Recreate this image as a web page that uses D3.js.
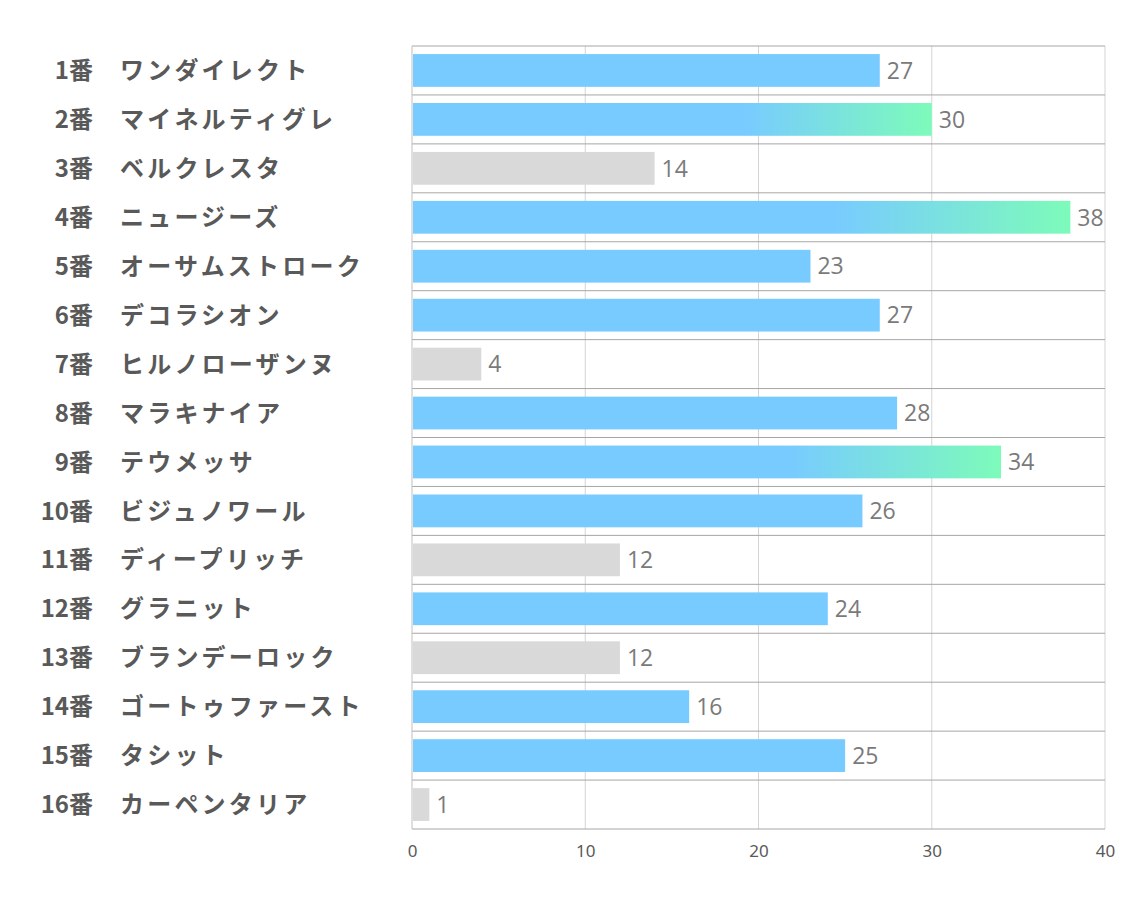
<!DOCTYPE html>
<html>
<head>
<meta charset="utf-8">
<script src="https://cdn.jsdelivr.net/npm/d3@7"></script>
<style>
  body { margin: 0; background: #fff; }
  svg { display: block; }
</style>
</head>
<body>
<div id="chart"></div>
<script>
// Chart data
var numbers = ["1番", "2番", "3番", "4番", "5番", "6番", "7番", "8番",
    "9番", "10番", "11番", "12番", "13番", "14番", "15番", "16番"];
var horses = ["ワンダイレクト", "マイネルティグレ", "ベルクレスタ", "ニュージーズ",
    "オーサムストローク", "デコラシオン", "ヒルノローザンヌ", "マラキナイア",
    "テウメッサ", "ビジュノワール", "ディープリッチ", "グラニット",
    "ブランデーロック", "ゴートゥファースト", "タシット", "カーペンタリア"];
var values = [27, 30, 14, 38, 23, 27, 4, 28, 34, 26, 12, 24, 12, 16, 25, 1];
// bar style per horse: "b" = blue, "g" = gradient, "x" = gray
var kinds = ["b", "g", "x", "g", "b", "b", "x", "b", "g", "b", "x", "b", "x", "b", "b", "x"];
var xTicks = [0, 10, 20, 30, 40];

var svgWidth = 1134;
var svgHeight = 907;
var margin = { top: 46, right: 29, bottom: 78, left: 412 };
var chartWidth = svgWidth - margin.left - margin.right;
var chartHeight = svgHeight - margin.top - margin.bottom;

var svg = d3.select("#chart").append("svg")
    .attr("width", svgWidth)
    .attr("height", svgHeight);

// Gradient for the highlighted bars
var grad = svg.append("defs").append("linearGradient")
    .attr("id", "hl")
    .attr("x1", "0%").attr("x2", "100%")
    .attr("y1", "0%").attr("y2", "0%");
grad.append("stop").attr("offset", "0%").attr("stop-color", "#78cbff");
grad.append("stop").attr("offset", "64%").attr("stop-color", "#78cbff");
grad.append("stop").attr("offset", "100%").attr("stop-color", "#7dfbba");

var chartGroup = svg.append("g")
    .attr("transform", `translate(${margin.left}, ${margin.top})`);

var xScale = d3.scaleLinear().domain([0, 40]).range([0, chartWidth]);
var yScale = d3.scaleBand()
    .domain(d3.range(horses.length))
    .range([0, chartHeight])
    .paddingInner(0.33)
    .paddingOuter(0.165);
var rowScale = d3.scaleBand()
    .domain(d3.range(horses.length))
    .range([0, chartHeight]);

// Vertical grid lines
chartGroup.selectAll(".vgrid")
    .data(xTicks.slice(1))
    .enter().append("line")
    .attr("x1", d => xScale(d)).attr("x2", d => xScale(d))
    .attr("y1", 0).attr("y2", chartHeight)
    .attr("stroke", "#d4d4d4")
    .attr("stroke-width", 1);

// Horizontal row lines
var rowEdges = d3.range(horses.length + 1);
chartGroup.selectAll(".hgrid")
    .data(rowEdges)
    .enter().append("line")
    .attr("x1", 0).attr("x2", chartWidth)
    .attr("y1", d => d < horses.length ? rowScale(d) : chartHeight)
    .attr("y2", d => d < horses.length ? rowScale(d) : chartHeight)
    .attr("stroke", "#a6a6a6")
    .attr("stroke-width", 1);

// Left axis line
chartGroup.append("line")
    .attr("x1", 0).attr("x2", 0)
    .attr("y1", 0).attr("y2", chartHeight)
    .attr("stroke", "#bfbfbf");

// Bars
var fills = { b: "#78cbff", g: "url(#hl)", x: "#d9d9d9" };
chartGroup.selectAll(".bar")
    .data(values)
    .enter().append("rect")
    .attr("x", xScale(0) + 1)
    .attr("y", (d, i) => yScale(i))
    .attr("width", d => xScale(d) - 1)
    .attr("height", yScale.bandwidth())
    .attr("fill", (d, i) => fills[kinds[i]]);

// Value labels
chartGroup.selectAll(".val")
    .data(values)
    .enter().append("text")
    .attr("x", d => xScale(d) + 7)
    .attr("y", (d, i) => yScale(i) + yScale.bandwidth() / 2)
    .attr("dy", "0.36em")
    .attr("font-family", "'Open Sans', 'Noto Sans', sans-serif")
    .attr("font-size", 23)
    .attr("fill", "#7a7a7a")
    .text(d => d);

// Row labels: number and horse name
chartGroup.selectAll(".num")
    .data(numbers)
    .enter().append("text")
    .attr("x", 93 - margin.left)
    .attr("y", (d, i) => rowScale(i) + rowScale.bandwidth() / 2)
    .attr("dy", "0.36em")
    .attr("text-anchor", "end")
    .attr("font-family", "'Noto Sans CJK JP', sans-serif")
    .attr("font-weight", "bold")
    .attr("font-size", 24)
    .attr("fill", "#595959")
    .text(d => d);

chartGroup.selectAll(".name")
    .data(horses)
    .enter().append("text")
    .attr("x", 120 - margin.left)
    .attr("y", (d, i) => rowScale(i) + rowScale.bandwidth() / 2)
    .attr("dy", "0.36em")
    .attr("font-family", "'Noto Sans CJK JP', sans-serif")
    .attr("font-weight", "bold")
    .attr("font-size", 24)
    .attr("letter-spacing", 3.2)
    .attr("fill", "#595959")
    .text(d => d);

// X axis
var bottomAxis = d3.axisBottom(xScale).tickValues(xTicks).tickSize(0).tickPadding(16);
var xAxis = chartGroup.append("g")
    .attr("transform", `translate(0, ${chartHeight})`)
    .call(bottomAxis);
xAxis.select(".domain").remove();
xAxis.selectAll("text")
    .style("font-family", "'Liberation Sans Narrow', 'Noto Sans', sans-serif")
    .style("font-size", "17px")
    .attr("fill", "#595959");
</script>
</body>
</html>
